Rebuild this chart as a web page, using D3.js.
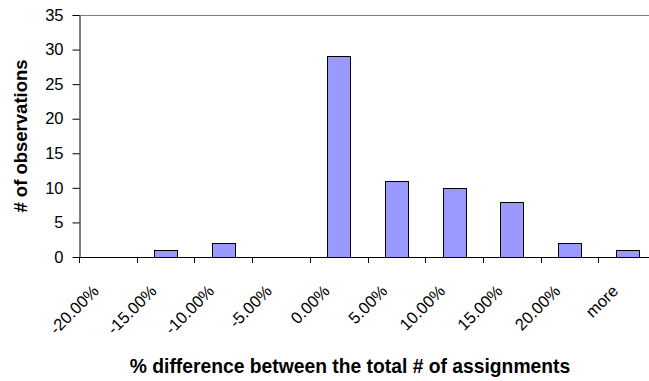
<!DOCTYPE html>
<html>
<head>
<meta charset="utf-8">
<script src="https://cdn.jsdelivr.net/npm/d3@7"></script>
<style>
  html, body { margin: 0; padding: 0; background: #fff; }
  svg { display: block; font-family: Arial, "Liberation Sans", sans-serif; }
</style>
</head>
<body>
<svg id="chart" width="649" height="381"></svg>
<script>
// Histogram bins and counts
const categories = ["-20.00%", "-15.00%", "-10.00%", "-5.00%", "0.00%", "5.00%", "10.00%", "15.00%", "20.00%", "more"];
const counts = [0, 1, 2, 0, 29, 11, 10, 8, 2, 1];
const yTicks = [0, 5, 10, 15, 20, 25, 30, 35];

const svg = d3.select("#chart");
const plot = { left: 79, right: 656, top: 15, bottom: 257 };

const x = d3.scaleBand()
  .domain(categories)
  .range([plot.left, plot.right])
  .paddingInner(0.6)
  .paddingOuter(0.3);

const y = d3.scaleLinear()
  .domain([0, 35])
  .range([plot.bottom, plot.top]);

// Plot area top border
svg.append("line")
  .attr("x1", plot.left).attr("x2", plot.right)
  .attr("y1", plot.top + 0.5).attr("y2", plot.top + 0.5)
  .attr("stroke", "#808080").attr("stroke-width", 1);

// Bars
svg.append("g").selectAll("rect")
  .data(categories.map((c, i) => ({ c, v: counts[i] })))
  .join("rect")
  .attr("x", d => Math.round(x(d.c)) + 0.5)
  .attr("y", d => Math.round(y(d.v)) + 0.5)
  .attr("width", Math.round(x.bandwidth()))
  .attr("height", d => Math.round(y(0)) - Math.round(y(d.v)))
  .attr("fill", "#9999ff")
  .attr("stroke", "#000")
  .attr("stroke-width", 1);

// Y axis
const yAxis = svg.append("g")
  .attr("transform", `translate(${plot.left + 0.5},0)`)
  .call(d3.axisLeft(y).tickValues(yTicks).tickSize(7).tickPadding(9).tickSizeOuter(0));
yAxis.select(".domain").attr("stroke", "#000");
yAxis.selectAll(".tick line").attr("stroke", "#000");
yAxis.selectAll(".tick text")
  .attr("font-size", 16.5)
  .attr("font-family", "Arial, 'Liberation Sans', sans-serif")
  .attr("fill", "#000");

// X axis line with ticks on category boundaries
const xAxis = svg.append("g");
xAxis.append("line")
  .attr("x1", plot.left).attr("x2", plot.right)
  .attr("y1", plot.bottom + 0.5).attr("y2", plot.bottom + 0.5)
  .attr("stroke", "#000");
const bounds = d3.range(categories.length + 1).map(i => x.range()[0] + i * x.step());
xAxis.selectAll("line.tick")
  .data(bounds)
  .join("line")
  .attr("class", "tick")
  .attr("x1", d => Math.round(d) + 0.5).attr("x2", d => Math.round(d) + 0.5)
  .attr("y1", plot.bottom).attr("y2", plot.bottom + 6)
  .attr("stroke", "#000");

// Rotated category labels
xAxis.selectAll("text")
  .data(categories)
  .join("text")
  .attr("transform", d => `translate(${x(d) + x.bandwidth() / 2 - 8},${plot.bottom + 35}) rotate(-45)`)
  .attr("text-anchor", "end")
  .attr("font-size", 16.5)
  .attr("fill", "#000")
  .text(d => d);

// Axis titles
svg.append("text")
  .attr("x", 350).attr("y", 373)
  .attr("text-anchor", "middle")
  .attr("font-size", 19.3)
  .attr("font-weight", "bold")
  .text("% difference between the total # of assignments");

svg.append("text")
  .attr("transform", "translate(27,136) rotate(-90)")
  .attr("text-anchor", "middle")
  .attr("font-size", 18.5)
  .attr("font-weight", "bold")
  .text("# of observations");
</script>
</body>
</html>
